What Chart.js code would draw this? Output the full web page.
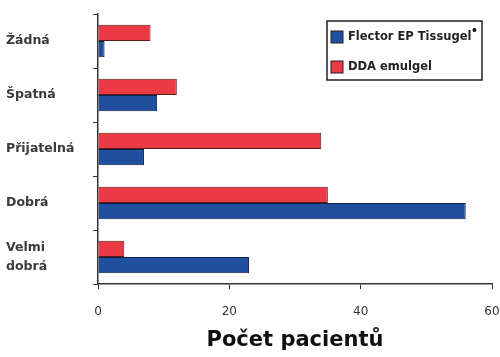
<!DOCTYPE html>
<html>
<head>
<meta charset="utf-8">
<script src="https://cdn.jsdelivr.net/npm/chart.js@4/dist/chart.umd.min.js"></script>
<style>
  html, body { margin: 0; padding: 0; background: #fff; }
  #wrap { width: 500px; height: 357px; position: relative; }
</style>
</head>
<body>
<div id="wrap"><canvas id="graf"></canvas></div>
<script>
// kategorie hodnoceni
const kategorie = ['Žádná', 'Špatná', 'Přijatelná', 'Dobrá', ['Velmi', 'dobrá']];
// pocty pacientu
const ddaEmulgel = [8, 12, 34, 35, 4];
const flectorTissugel = [1, 9, 7, 56, 23];
const osaX = [0, 20, 40, 60];

const modra = '#1f4f9e';
const cervena = '#ec3a44';

// legenda v ramecku vpravo nahore
const legendaBox = {
    id: 'legendaBox',
    afterDraw(chart) {
        const ctx = chart.ctx;
        const x = 327, y = 21, w = 155, h = 59;
        ctx.save();
        ctx.fillStyle = '#fff';
        ctx.fillRect(x, y, w, h);
        ctx.strokeStyle = '#222';
        ctx.lineWidth = 1.5;
        ctx.strokeRect(x, y, w, h);
        const polozky = [chart.data.datasets[1], chart.data.datasets[0]];
        ctx.font = 'bold 11.5px "DejaVu Sans"';
        polozky.forEach((ds, i) => {
            const ry = y + 10 + i * 30;
            ctx.fillStyle = ds.backgroundColor;
            ctx.fillRect(x + 4, ry, 12, 12);
            ctx.strokeStyle = '#222';
            ctx.lineWidth = 1;
            ctx.strokeRect(x + 4, ry, 12, 12);
            ctx.fillStyle = '#222';
            ctx.textBaseline = 'middle';
            ctx.fillText(ds.label, x + 21, ry + 6);
            if (i === 0) {
                // registrovana znacka za nazvem
                const konec = x + 21 + ctx.measureText(ds.label).width;
                ctx.beginPath();
                ctx.arc(konec + 3, ry - 1, 2, 0, Math.PI * 2);
                ctx.fillStyle = '#111';
                ctx.fill();
            }
        });
        ctx.restore();
    }
};

new Chart(document.getElementById('graf'), {
    type: 'bar',
    data: {
        labels: kategorie,
        datasets: [{
            label: 'DDA emulgel',
            data: ddaEmulgel,
            backgroundColor: cervena,
            borderColor: '#5a1a1a',
            borderWidth: 1,
            categoryPercentage: 0.6,
            barPercentage: 1.0
        }, {
            label: 'Flector EP Tissugel',
            data: flectorTissugel,
            backgroundColor: modra,
            borderColor: '#10224a',
            borderWidth: 1,
            categoryPercentage: 0.6,
            barPercentage: 1.0
        }]
    },
    options: {
        indexAxis: 'y',
        responsive: true,
        maintainAspectRatio: false,
        animation: false,
        layout: { padding: { top: 14, right: 0, left: 6, bottom: 0 } },
        plugins: {
            legend: { display: false },
            tooltip: { enabled: false }
        },
        scales: {
            x: {
                min: 0,
                max: 60,
                afterBuildTicks: (axis) => { axis.ticks = osaX.map(v => ({ value: v })); },
                afterFit: (axis) => {
                    axis.height = 73;
                    axis.paddingRight = 8;
                    axis.paddingLeft = 0;
                },
                grid: { drawOnChartArea: false, drawTicks: true, tickLength: 5, color: '#333' },
                border: { color: '#333', width: 1.5 },
                ticks: { color: '#333', font: { family: 'DejaVu Sans', size: 12 }, padding: 16 },
                title: {
                    display: true,
                    text: 'Počet pacientů',
                    color: '#111',
                    font: { family: 'DejaVu Sans', size: 21, weight: 'bold' },
                    padding: { top: 0 }
                }
            },
            y: {
                afterFit: (axis) => {
                    axis.width = 92;
                    axis.paddingTop = 0;
                    axis.paddingBottom = 0;
                },
                grid: { drawOnChartArea: false, drawTicks: true, tickLength: 5, color: '#333', offset: true },
                border: { color: '#333', width: 1.5 },
                ticks: {
                    color: '#3a3a3a',
                    crossAlign: 'far',
                    font: { family: 'DejaVu Sans', size: 12.5, weight: 'bold', lineHeight: 1.5 }
                }
            }
        }
    },
    plugins: [legendaBox]
});
</script>
</body>
</html>
